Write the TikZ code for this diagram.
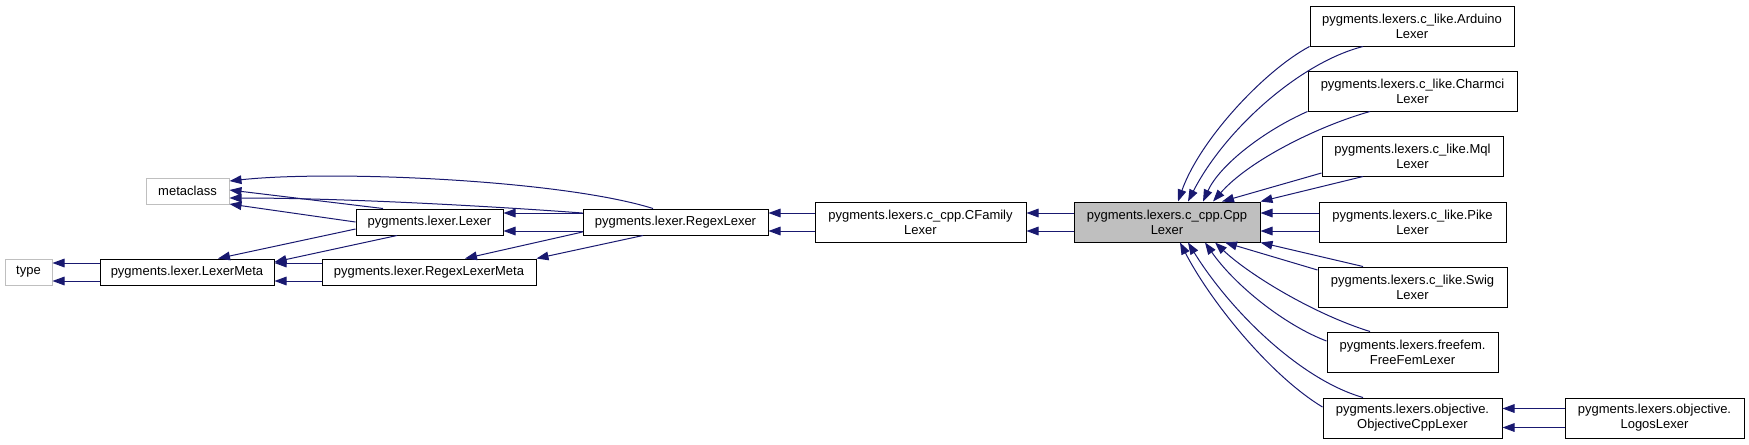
\documentclass[tikz,border=0pt]{standalone}
\usepackage{fontspec}
\setmainfont{Liberation Sans}
\usetikzlibrary{arrows.meta,calc}

\definecolor{edgeblue}{RGB}{25,25,112}
\definecolor{greyline}{RGB}{191,191,191}
\definecolor{greyfill}{RGB}{191,191,191}

\tikzset{every picture/.style={line width=0.75pt}}
\tikzset{
  cls/.style={draw=black,fill=white,inner sep=0pt,align=center,
    minimum height=19.5pt,font=\fontsize{9.75}{11.25}\selectfont},
  twoline/.style={cls,minimum height=30pt},
  ext/.style={cls,draw=greyline},
  sel/.style={twoline,fill=greyfill},
  inh/.style={draw=edgeblue,-{Triangle[length=9pt,width=6.5pt]}}
}

\begin{document}
\begin{tikzpicture}[x=0.75pt,y=0.75pt,yscale=-1,xscale=1]
\useasboundingbox (0,0) rectangle (1749,444);

% Text Node
\node [ext,minimum width=35.25pt] (type) at (28.5,272) {type};
\node [ext,minimum width=62.25pt] (meta) at (187.5,191) {metaclass};
\node [cls,minimum width=130.5pt] (lexmeta) at (187,272) {pygments.lexer.LexerMeta};
\node [cls,minimum width=110.25pt] (lexer) at (429.5,222) {pygments.lexer.Lexer};
\node [cls,minimum width=160.5pt] (rxmeta) at (429,272) {pygments.lexer.RegexLexerMeta};
\node [cls,minimum width=138.75pt] (rxlexer) at (675.5,222) {pygments.lexer.RegexLexer};
\node [twoline,minimum width=158.25pt] (cfamily) at (920.5,222) {pygments.lexers.c\_cpp.CFamily\\Lexer};
\node [sel,minimum width=139.5pt] (cpp) at (1167,222) {pygments.lexers.c\_cpp.Cpp\\Lexer};
% Text Node
\node [twoline,minimum width=153pt] (arduino) at (1412,26) {pygments.lexers.c\_like.Arduino\\Lexer};
\node [twoline,minimum width=156.75pt] (charmci) at (1412.5,91) {pygments.lexers.c\_like.Charmci\\Lexer};
\node [twoline,minimum width=135.75pt] (mql) at (1412.5,156) {pygments.lexers.c\_like.Mql\\Lexer};
\node [twoline,minimum width=140.25pt] (pike) at (1412.5,222) {pygments.lexers.c\_like.Pike\\Lexer};
\node [twoline,minimum width=141.75pt] (swig) at (1412.5,287) {pygments.lexers.c\_like.Swig\\Lexer};
\node [twoline,minimum width=128.25pt] (freefem) at (1412.5,352) {pygments.lexers.freefem.\\FreeFemLexer};
\node [twoline,minimum width=134.25pt] (objcpp) at (1412.5,418) {pygments.lexers.objective.\\ObjectiveCppLexer};
\node [twoline,minimum width=134.25pt] (logos) at (1654.5,418) {pygments.lexers.objective.\\LogosLexer};

%Straight Lines
\draw [inh] ($(lexmeta.west)+(0,-9)$) -- ($(type.east)+(0,-9)$);
\draw [inh] ($(lexmeta.west)+(0,9)$) -- ($(type.east)+(0,9)$);
\draw [inh] ($(rxmeta.west)+(0,-9)$) -- ($(lexmeta.east)+(0,-9)$);
\draw [inh] ($(rxmeta.west)+(0,9)$) -- ($(lexmeta.east)+(0,9)$);
\draw [inh] ($(rxlexer.west)+(0,-9)$) -- ($(lexer.east)+(0,-9)$);
\draw [inh] ($(rxlexer.west)+(0,9)$) -- ($(lexer.east)+(0,9)$);
\draw [inh] ($(cfamily.west)+(0,-9)$) -- ($(rxlexer.east)+(0,-9)$);
\draw [inh] ($(cfamily.west)+(0,9)$) -- ($(rxlexer.east)+(0,9)$);
\draw [inh] ($(cpp.west)+(0,-9)$) -- ($(cfamily.east)+(0,-9)$);
\draw [inh] ($(cpp.west)+(0,9)$) -- ($(cfamily.east)+(0,9)$);
\draw [inh] ($(pike.west)+(0,-9)$) -- ($(cpp.east)+(0,-9)$);
\draw [inh] ($(pike.west)+(0,9)$) -- ($(cpp.east)+(0,9)$);
\draw [inh] ($(logos.west)+(0,-9.5)$) -- ($(objcpp.east)+(0,-9.5)$);
\draw [inh] ($(logos.west)+(0,9.5)$) -- ($(objcpp.east)+(0,9.5)$);

%Curves to metaclass
\draw [inh] ($(rxlexer.north)+(-22.5,0)$) .. controls +(-93,-29) and +(101,-11) .. ($(meta.east)+(0,-10)$);
\draw [inh] ($(lexer.north)+(-46.5,0)$) -- ($(meta.east)+(0,-1)$);
\draw [inh] ($(rxlexer.west)+(0,-9)$) .. controls +(-80,-6) and +(120,0) .. ($(meta.east)+(0,7)$);
\draw [inh] (lexer.west) -- ($(meta.east)+(0,13)$);
%Lines to the metas
\draw [inh] ($(lexer.west)+(0,7)$) -- ($(lexmeta.north)+(31,0)$);
\draw [inh] ($(lexer.south)+(-32.5,0)$) -- ($(lexmeta.east)+(0,-10)$);
\draw [inh] ($(rxlexer.west)+(0,10)$) -- ($(rxmeta.north)+(36,0)$);
\draw [inh] ($(rxlexer.south)+(-32.5,0)$) -- (rxmeta.north east);

%Curves into CppLexer, top
\draw [inh] (arduino.south west) .. controls +(-45,24) and +(22,-62) .. ($(cpp.north)+(11,0)$);
\draw [inh] ($(arduino.south)+(-49,0)$) .. controls +(-63,16) and +(37,-72) .. ($(cpp.north)+(21,0)$);
\draw [inh] (charmci.south west) .. controls +(-43,19) and +(17,-37) .. ($(cpp.north)+(36,0)$);
\draw [inh] ($(charmci.south)+(-42.5,0)$) .. controls +(-50,14) and +(37,-42) .. ($(cpp.north)+(46,0)$);
\draw [inh] ($(mql.west)+(0,17)$) -- ($(cpp.north)+(55,0)$);
\draw [inh] ($(mql.south)+(-49.5,0)$) -- (cpp.north east);
%Curves into CppLexer, bottom
\draw [inh] ($(swig.north)+(-49.5,0)$) -- (cpp.south east);
\draw [inh] ($(swig.west)+(0,-17)$) -- ($(cpp.south)+(58,0)$);
\draw [inh] ($(freefem.north)+(-42.5,0)$) .. controls +(-55,-17) and +(35,33) .. ($(cpp.south)+(48,0)$);
\draw [inh] ($(freefem.west)+(0,-11)$) .. controls +(-42,-16) and +(30,43) .. ($(cpp.south)+(38,0)$);
\draw [inh] ($(objcpp.north)+(-49.5,0)$) .. controls +(-63,-18) and +(42,68) .. ($(cpp.south)+(21,0)$);
\draw [inh] ($(objcpp.west)+(0,-11)$) .. controls +(-53,-32) and +(30,58) .. ($(cpp.south)+(13,0)$);

\end{tikzpicture}
\end{document}
